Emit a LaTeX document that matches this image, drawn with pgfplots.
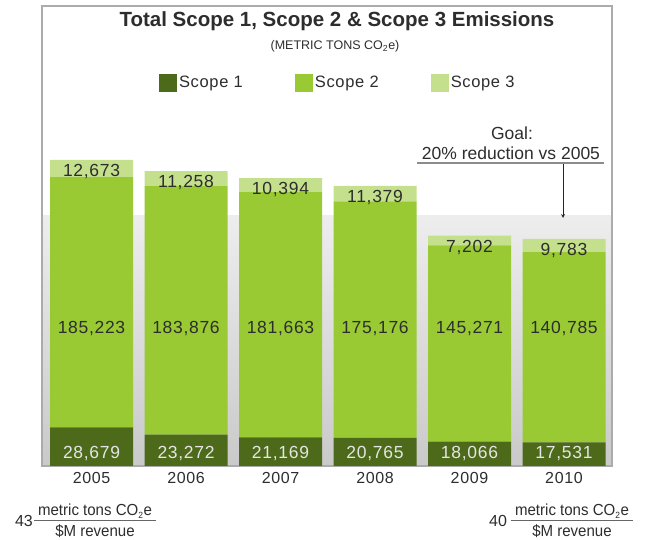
\documentclass[border=0pt]{standalone}
\usepackage{pgfplots}
\pgfplotsset{compat=1.18}
\usepackage{pgfplotstable}
\usepackage{graphicx}
\usepackage{fontspec}
\setmainfont{Liberation Sans}
\newfontfamily\wide[LetterSpace=4]{Liberation Sans}
\definecolor{sone}{RGB}{77,106,26}
\definecolor{stwo}{RGB}{153,202,52}
\definecolor{sthree}{RGB}{196,224,140}
\definecolor{txt}{RGB}{45,45,45}
\pgfplotstableread{
x s1 s2 s3
0 28679 185223 12673
1 23272 183876 11258
2 21169 181663 10394
3 20765 175176 11379
4 18066 145271 7202
5 17531 140785 9783
}\data
\begin{document}
\begin{tikzpicture}
\path[use as bounding box] (0pt,0pt) rectangle (646pt,540pt);
\shade[top color=black!7, bottom color=black!21] (42pt,74pt) rectangle (612pt,324pt);
\begin{axis}[at={(42pt,74pt)}, anchor=south west, scale only axis,
  width=570pt, height=460pt,
  ybar stacked, bar width=83pt,
  xmin=-0.524, xmax=5.508, ymin=0, ymax=340600,
  xtick={0,1,2,3,4,5}, xticklabels={2005,2006,2007,2008,2009,2010},
  ytick=\empty, major tick length=0pt,
  axis line style={black!33, line width=1.5pt},
  xticklabel style={font=\wide\fontsize{16}{19}\selectfont, text=txt, yshift=-3pt},
  legend columns=3,
  legend style={at={(0.519,0.833)}, anchor=center, draw=none, fill=none,
    font=\wide\fontsize{16.5}{19}\selectfont, text=txt,
    /tikz/every even column/.append style={column sep=50pt}},
  legend image code/.code={\fill[#1] (-4pt,-9pt) rectangle (14pt,9pt);},
  clip=false,
]
\addplot[fill=sone, draw=none] table[x=x, y=s1] {\data};
\addplot[fill=stwo, draw=none] table[x=x, y=s2] {\data};
\addplot[fill=sthree, draw=none] table[x=x, y=s3] {\data};
\legend{Scope 1, Scope 2, Scope 3}
\coordinate (c0) at (axis cs:0,218000);
\coordinate (c1) at (axis cs:1,209900);
\coordinate (c2) at (axis cs:2,204700);
\coordinate (c3) at (axis cs:3,198800);
\coordinate (c4) at (axis cs:4,162000);
\coordinate (c5) at (axis cs:5,159550);
\coordinate (b0) at (axis cs:0,101600);
\coordinate (b1) at (axis cs:1,101600);
\coordinate (b2) at (axis cs:2,101600);
\coordinate (b3) at (axis cs:3,101600);
\coordinate (b4) at (axis cs:4,101600);
\coordinate (b5) at (axis cs:5,101600);
\coordinate (a0) at (axis cs:0,9600);
\coordinate (a1) at (axis cs:1,9600);
\coordinate (a2) at (axis cs:2,9600);
\coordinate (a3) at (axis cs:3,9600);
\coordinate (a4) at (axis cs:4,9600);
\coordinate (a5) at (axis cs:5,9600);
\end{axis}
\begin{scope}[every node/.style={font=\wide\fontsize{17.5}{20}\selectfont, text=txt}]
\node at (c0) {12,673};
\node at (c1) {11,258};
\node at (c2) {10,394};
\node at (c3) {11,379};
\node at (c4) {7,202};
\node at (c5) {9,783};
\node at (b0) {185,223};
\node at (b1) {183,876};
\node at (b2) {181,663};
\node at (b3) {175,176};
\node at (b4) {145,271};
\node at (b5) {140,785};
\node[text=black!10] at (a0) {28,679};
\node[text=black!10] at (a1) {23,272};
\node[text=black!10] at (a2) {21,169};
\node[text=black!10] at (a3) {20,765};
\node[text=black!10] at (a4) {18,066};
\node[text=black!10] at (a5) {17,531};
\end{scope}
% titles
\node[font=\bfseries\fontsize{20.5}{24}\selectfont, text=txt] at (337pt,519pt) {Total Scope 1, Scope 2 \& Scope 3 Emissions};
\node[font=\fontsize{12.5}{15}\selectfont, text=txt] at (335pt,494pt) {(METRIC TONS CO\textsubscript{2}e)};
% goal
\node[font=\fontsize{17.5}{20}\selectfont, text=txt] at (512pt,407pt) {Goal:};
\node[font=\fontsize{17.5}{20}\selectfont, text=txt] at (511pt,387pt) {20\% reduction vs 2005};
\draw[black!45, line width=2pt] (417pt,377pt) -- (604pt,377pt);
\draw[-stealth, black!85, line width=0.8pt] (563pt,376pt) -- (563pt,322pt);
% intensity fractions
\node[font=\fontsize{16}{19}\selectfont, text=txt] at (24pt,19pt) {43};
\node[font=\fontsize{16}{19}\selectfont, text=txt] at (95pt,29pt) {\scalebox{0.94}[1]{metric tons CO\textsubscript{\fontsize{9}{10}\selectfont 2}e}};
\node[font=\fontsize{16}{19}\selectfont, text=txt] at (95pt,9pt) {\scalebox{0.94}[1]{\$M revenue}};
\draw[black!60, line width=0.6pt] (34pt,19.5pt) -- (156pt,19.5pt);
\node[font=\fontsize{16}{19}\selectfont, text=txt] at (498pt,19pt) {40};
\node[font=\fontsize{16}{19}\selectfont, text=txt] at (572pt,29pt) {\scalebox{0.94}[1]{metric tons CO\textsubscript{\fontsize{9}{10}\selectfont 2}e}};
\node[font=\fontsize{16}{19}\selectfont, text=txt] at (572pt,9pt) {\scalebox{0.94}[1]{\$M revenue}};
\draw[black!60, line width=0.6pt] (511pt,19.5pt) -- (633pt,19.5pt);
\end{tikzpicture}
\end{document}
